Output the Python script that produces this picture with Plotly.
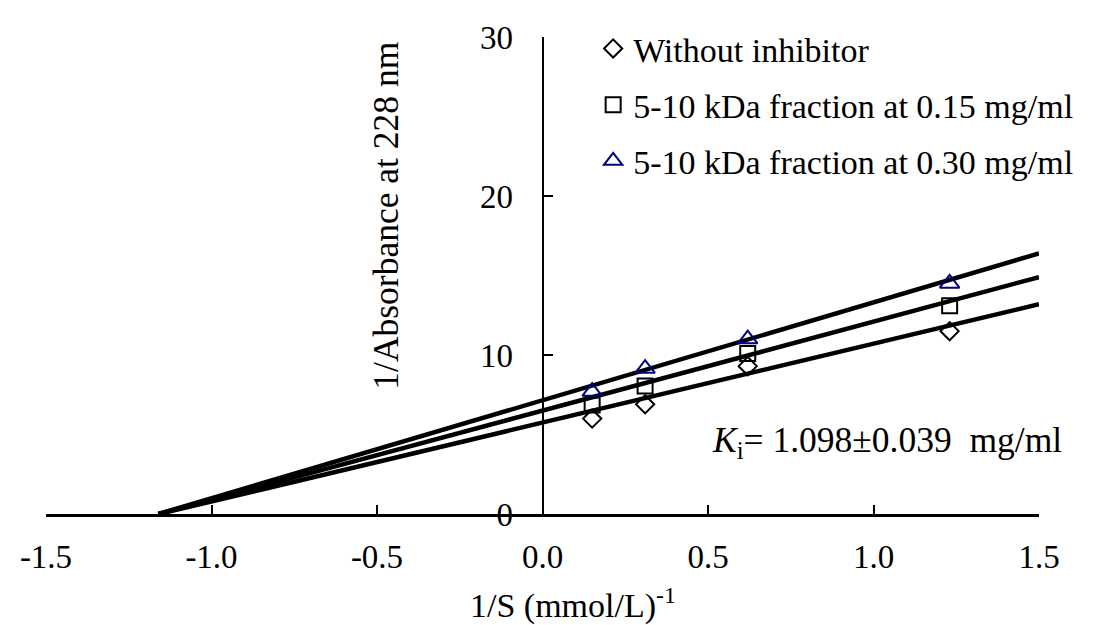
import numpy as np
import plotly.graph_objects as go

# ---- data ----
inv_s = [0.15, 0.31, 0.62, 1.23]                      # 1/S (mmol/L)^-1
y_without = [6.0, 6.9, 9.3, 11.5]                     # without inhibitor
y_015 = [6.85, 8.05, 10.1, 13.1]                      # 5-10 kDa at 0.15 mg/ml
y_030 = [7.7, 9.15, 11.0, 14.5]                       # 5-10 kDa at 0.30 mg/ml

series_names = ["Without inhibitor",
                "5-10 kDa fraction at 0.15 mg/ml",
                "5-10 kDa fraction at 0.30 mg/ml"]
series_values = [y_without, y_015, y_030]

# fitted Lineweaver-Burk lines (intercept, slope)
line_intercepts = [5.75, 6.5, 7.15]
line_slopes = [4.96, 5.6, 6.16]

x_ticks = [-1.5, -1.0, -0.5, 0.0, 0.5, 1.0, 1.5]
x_tick_labels = ["-1.5", "-1.0", "-0.5", "0.0", "0.5", "1.0", "1.5"]
y_ticks = [0, 10, 20, 30]
y_tick_labels = ["0", "10", "20", "30"]

# ---- styling ----
FONT = "Liberation Serif, Times New Roman, serif"
symbols = ["diamond-open", "square-open", "triangle-up-open"]
sizes = [14, 15, 17]
colors = ["black", "black", "#000080"]

fig = go.Figure()

X_MAX = 1.5
for b, m in zip(line_intercepts, line_slopes):
    x0 = -b / m
    xs = np.array([x0, X_MAX])
    fig.add_trace(go.Scatter(x=xs, y=b + m * xs, mode="lines",
                             line=dict(color="black", width=4.5),
                             showlegend=False, hoverinfo="skip"))

for i, (name, vals) in enumerate(zip(series_names, series_values)):
    fig.add_trace(go.Scatter(x=inv_s, y=vals, mode="markers", name=name,
                             legendgroup=f"g{i}",
                             marker=dict(symbol=symbols[i], size=sizes[i],
                                         color=colors[i],
                                         line=dict(color=colors[i], width=2))))

fig.update_layout(
    width=1103, height=617,
    margin=dict(l=36, r=72, t=21, b=111),
    paper_bgcolor="white", plot_bgcolor="white",
    font=dict(family=FONT, size=33, color="black"),
    showlegend=True,
    legend=dict(x=0.551, y=1.036, xanchor="left", yanchor="top",
                bgcolor="rgba(0,0,0,0)", traceorder="grouped",
                tracegroupgap=9, itemwidth=30,
                font=dict(family=FONT, size=34, color="black")),
    xaxis=dict(range=[-1.5, 1.5], tickvals=x_ticks, ticktext=x_tick_labels,
               showgrid=False, zeroline=False, showline=True,
               linecolor="black", linewidth=2.5, ticks="inside",
               ticklen=9, tickwidth=2, tickcolor="black",
               ticklabelstandoff=12,
               tickfont=dict(family=FONT, size=33, color="black")),
    yaxis=dict(range=[0, 30], tickvals=y_ticks, ticktext=y_tick_labels,
               showgrid=False, zeroline=False, showline=True,
               linecolor="black", linewidth=2, ticks="inside",
               ticklen=9, tickwidth=2, tickcolor="black",
               anchor="free", position=0.5, ticklabelstandoff=22,
               tickfont=dict(family=FONT, size=33, color="black")),
    annotations=[
        dict(text="1/Absorbance at 228 nm", textangle=-90,
             xref="paper", yref="paper", x=0.3427, y=0.626,
             xanchor="center", yanchor="middle", showarrow=False,
             font=dict(family=FONT, size=35.5, color="black")),
        dict(text="1/S (mmol/L)<sup>-1</sup>",
             xref="paper", yref="paper", x=0.5307, y=-0.1876,
             xanchor="center", yanchor="middle", showarrow=False,
             font=dict(family=FONT, size=34, color="black")),
        dict(text="<i>K</i><sub>i</sub>= 1.098±0.039  mg/ml",
             xref="x", yref="y", x=0.505, y=4.55,
             xanchor="left", yanchor="middle", showarrow=False,
             font=dict(family=FONT, size=35.5, color="black")),
    ],
)

fig.write_html("out.html")
